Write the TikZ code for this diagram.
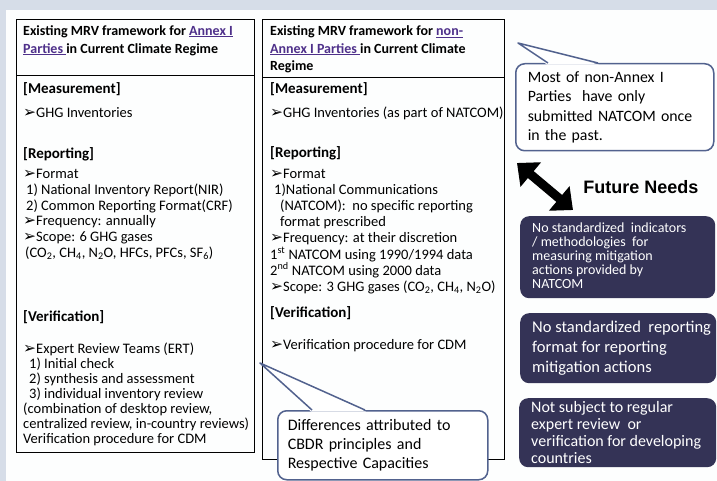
\documentclass[tikz,border=0pt]{standalone}
\usepackage{fontspec}
\setmainfont{Carlito}
\newfontfamily\arialfont{Liberation Sans}
\newfontfamily\dingfont{DejaVu Sans}
\usetikzlibrary{arrows.meta}

\definecolor{bgcol}{RGB}{214,221,232}
\definecolor{linkcol}{RGB}{78,48,138}
\definecolor{callcol}{RGB}{82,98,142}
\definecolor{needcol}{RGB}{52,51,86}

\newcommand{\arr}{{\dingfont\fontsize{15.5}{12}\selectfont ➢}}
\newcommand{\lnk}[1]{\textcolor{linkcol}{\underline{#1}}}

\tikzset{
  txt/.style={anchor=north west, inner sep=0pt, align=left, font=\fontsize{14.5}{15.8}\selectfont},
  hdr/.style={anchor=north west, inner sep=0pt, align=left, font=\bfseries\fontsize{14}{18}\selectfont},
  sect/.style={anchor=north west, inner sep=0pt, align=left, font=\bfseries\fontsize{15}{15}\selectfont},
  frame/.style={draw=black, line width=1pt, anchor=north west, inner sep=0pt},
  bubble/.style={draw=callcol, line width=1.5pt, fill=white, rounded corners=9pt, anchor=north west, align=left},
  needbox/.style={fill=needcol, rounded corners=9pt, anchor=north west, inner sep=0pt},
  needtxt/.style={anchor=west, inner sep=0pt, align=left, text=white}
}

\begin{document}
\begin{tikzpicture}[x=1pt,y=-1pt]
        \useasboundingbox (0,0) rectangle (717,481);
        \fill[bgcol] (0,0) rectangle (717,481);
        \fill[white!96!bgcol] (6,10) rectangle (717,481);

        \node[frame, minimum width=238, minimum height=433] at (16,19) (lbox) {};
        \draw[line width=1pt] (lbox.west |- 0,76) -- (lbox.east |- 0,76);
        \node[hdr] at (23,25) (lhead) {Existing MRV framework for \lnk{Annex I}\\\lnk{Parties\ }in Current Climate Regime};
        \node[sect] at (23,82.5) (lmeas) {[Measurement]};
        \node[txt] at (23,107) (lmeasbody) {\arr GHG Inventories};
        \node[sect] at (23,147.5) (lrep) {[Reporting]};
        \node[txt] at (23,169) (lrepbody) {\arr Format\\
          \hspace*{3pt}1) National Inventory Report(NIR)\\
          \hspace*{3pt}2) Common Reporting Format(CRF)\\
          \arr Frequency: annually\\
          \arr Scope: 6 GHG gases\\
          \hspace*{2pt}(CO\textsubscript{2}, CH\textsubscript{4}, N\textsubscript{2}O, HFCs, PFCs, SF\textsubscript{6})};
        \node[sect] at (23,310.5) (lver) {[Verification]};
        \node[txt, font=\fontsize{14.5}{14.9}\selectfont] at (23,343) (lverbody) {\arr Expert Review Teams (ERT)\\
          \hspace*{6pt}1) Initial check\\
          \hspace*{6pt}2) synthesis and assessment\\
          \hspace*{6pt}3) individual inventory review\\
          (combination of desktop review,\\
          centralized review, in-country reviews)\\
          Verification procedure for CDM};

        \node[frame, minimum width=242, minimum height=440] at (262,19) (mbox) {};
        \draw[line width=1pt] (mbox.west |- 0,78) -- (mbox.east |- 0,78);
        \node[hdr, font=\bfseries\fontsize{14}{17.5}\selectfont] at (270,25.5) (mhead) {Existing MRV framework for \lnk{non-}\\\lnk{Annex I Parties\ }in Current Climate\\Regime};
        \node[sect] at (270,82.5) (mmeas) {[Measurement]};
        \node[txt] at (270,107) (mmeasbody) {\arr GHG Inventories (as part of NATCOM)};
        \node[sect] at (270,146.5) (mrep) {[Reporting]};
        \node[txt, font=\fontsize{14.5}{16.1}\selectfont] at (270,169) (mrepbody) {\arr Format\\
          \hspace*{4pt}1)National Communications\\
          \hspace*{10pt}(NATCOM):\ \ no specific reporting\\
          \hspace*{10pt}format prescribed\\
          \arr Frequency: at their discretion\\
          1\textsuperscript{st} NATCOM using 1990/1994 data\\
          2\textsuperscript{nd} NATCOM using 2000 data\\
          \arr Scope: 3 GHG gases (CO\textsubscript{2}, CH\textsubscript{4}, N\textsubscript{2}O)};
        \node[sect] at (270,306.5) (mver) {[Verification]};
        \node[txt] at (270,339) (mverbody) {\arr Verification procedure for CDM};

        \node[bubble, text width=190, minimum height=69, inner xsep=10pt, font=\fontsize{16}{19}\selectfont] at (277,410) (diff) {Differences attributed to\\CBDR principles and\\Respective Capacities};
        \coordinate (difftip) at (260,363);
        \coordinate (diffl) at (312,410);
        \coordinate (diffr) at (365,410);
        \fill[white] ([shift={(-1,1.6)}]diffl) -- (difftip) -- ([shift={(1,1.6)}]diffr) -- cycle;
        \draw[callcol, line width=1.5pt, line join=round] (diffl) -- (difftip) -- (diffr);

        \node[bubble, text width=174, minimum height=87, inner xsep=12pt, font=\fontsize{15.8}{19.3}\selectfont] at (515,63) (most) {Most of non-Annex I\\Parties\ \ have only\\submitted NATCOM once\\in the past.};
        \coordinate (mosttip) at (518,43);
        \coordinate (mostl) at (548,63);
        \coordinate (mostr) at (598,63);
        \fill[white] ([shift={(-1,1.6)}]mostl) -- (mosttip) -- ([shift={(1,1.6)}]mostr) -- cycle;
        \draw[callcol, line width=1.5pt, line join=round] (mostl) -- (mosttip) -- (mostr);

        \coordinate (arra) at (517,163);
        \coordinate (arrb) at (573,210);
        \draw[line width=9pt, {Triangle[length=18pt,width=31pt]}-{Triangle[length=18pt,width=31pt]}] (arra) -- (arrb);
        \node[font=\arialfont\bfseries\fontsize{18}{18}\selectfont] at (641,187) (future) {Future Needs};

        \node[needbox, minimum width=195, minimum height=82] at (520,216) (need1) {};
        \node[needtxt, font=\fontsize{14}{14}\selectfont] at ([xshift=12pt,yshift=2pt]need1.west) (need1txt) {No standardized\ \ indicators\\/ methodologies\ \ for\\measuring mitigation\\actions provided by\\NATCOM};
        \node[needbox, minimum width=196, minimum height=70] at (520,313) (need2) {};
        \node[needtxt, font=\fontsize{16.5}{20}\selectfont] at ([xshift=12pt]need2.west) (need2txt) {No standardized\ \ reporting\\format for reporting\\mitigation actions};
        \node[needbox, minimum width=197, minimum height=69] at (519,398) (need3) {};
        \node[needtxt, font=\fontsize{16}{17}\selectfont] at ([xshift=12pt]need3.west) (need3txt) {Not subject to regular\\expert review\ \ or\\verification for developing\\countries};
    \end{tikzpicture}
\end{document}
